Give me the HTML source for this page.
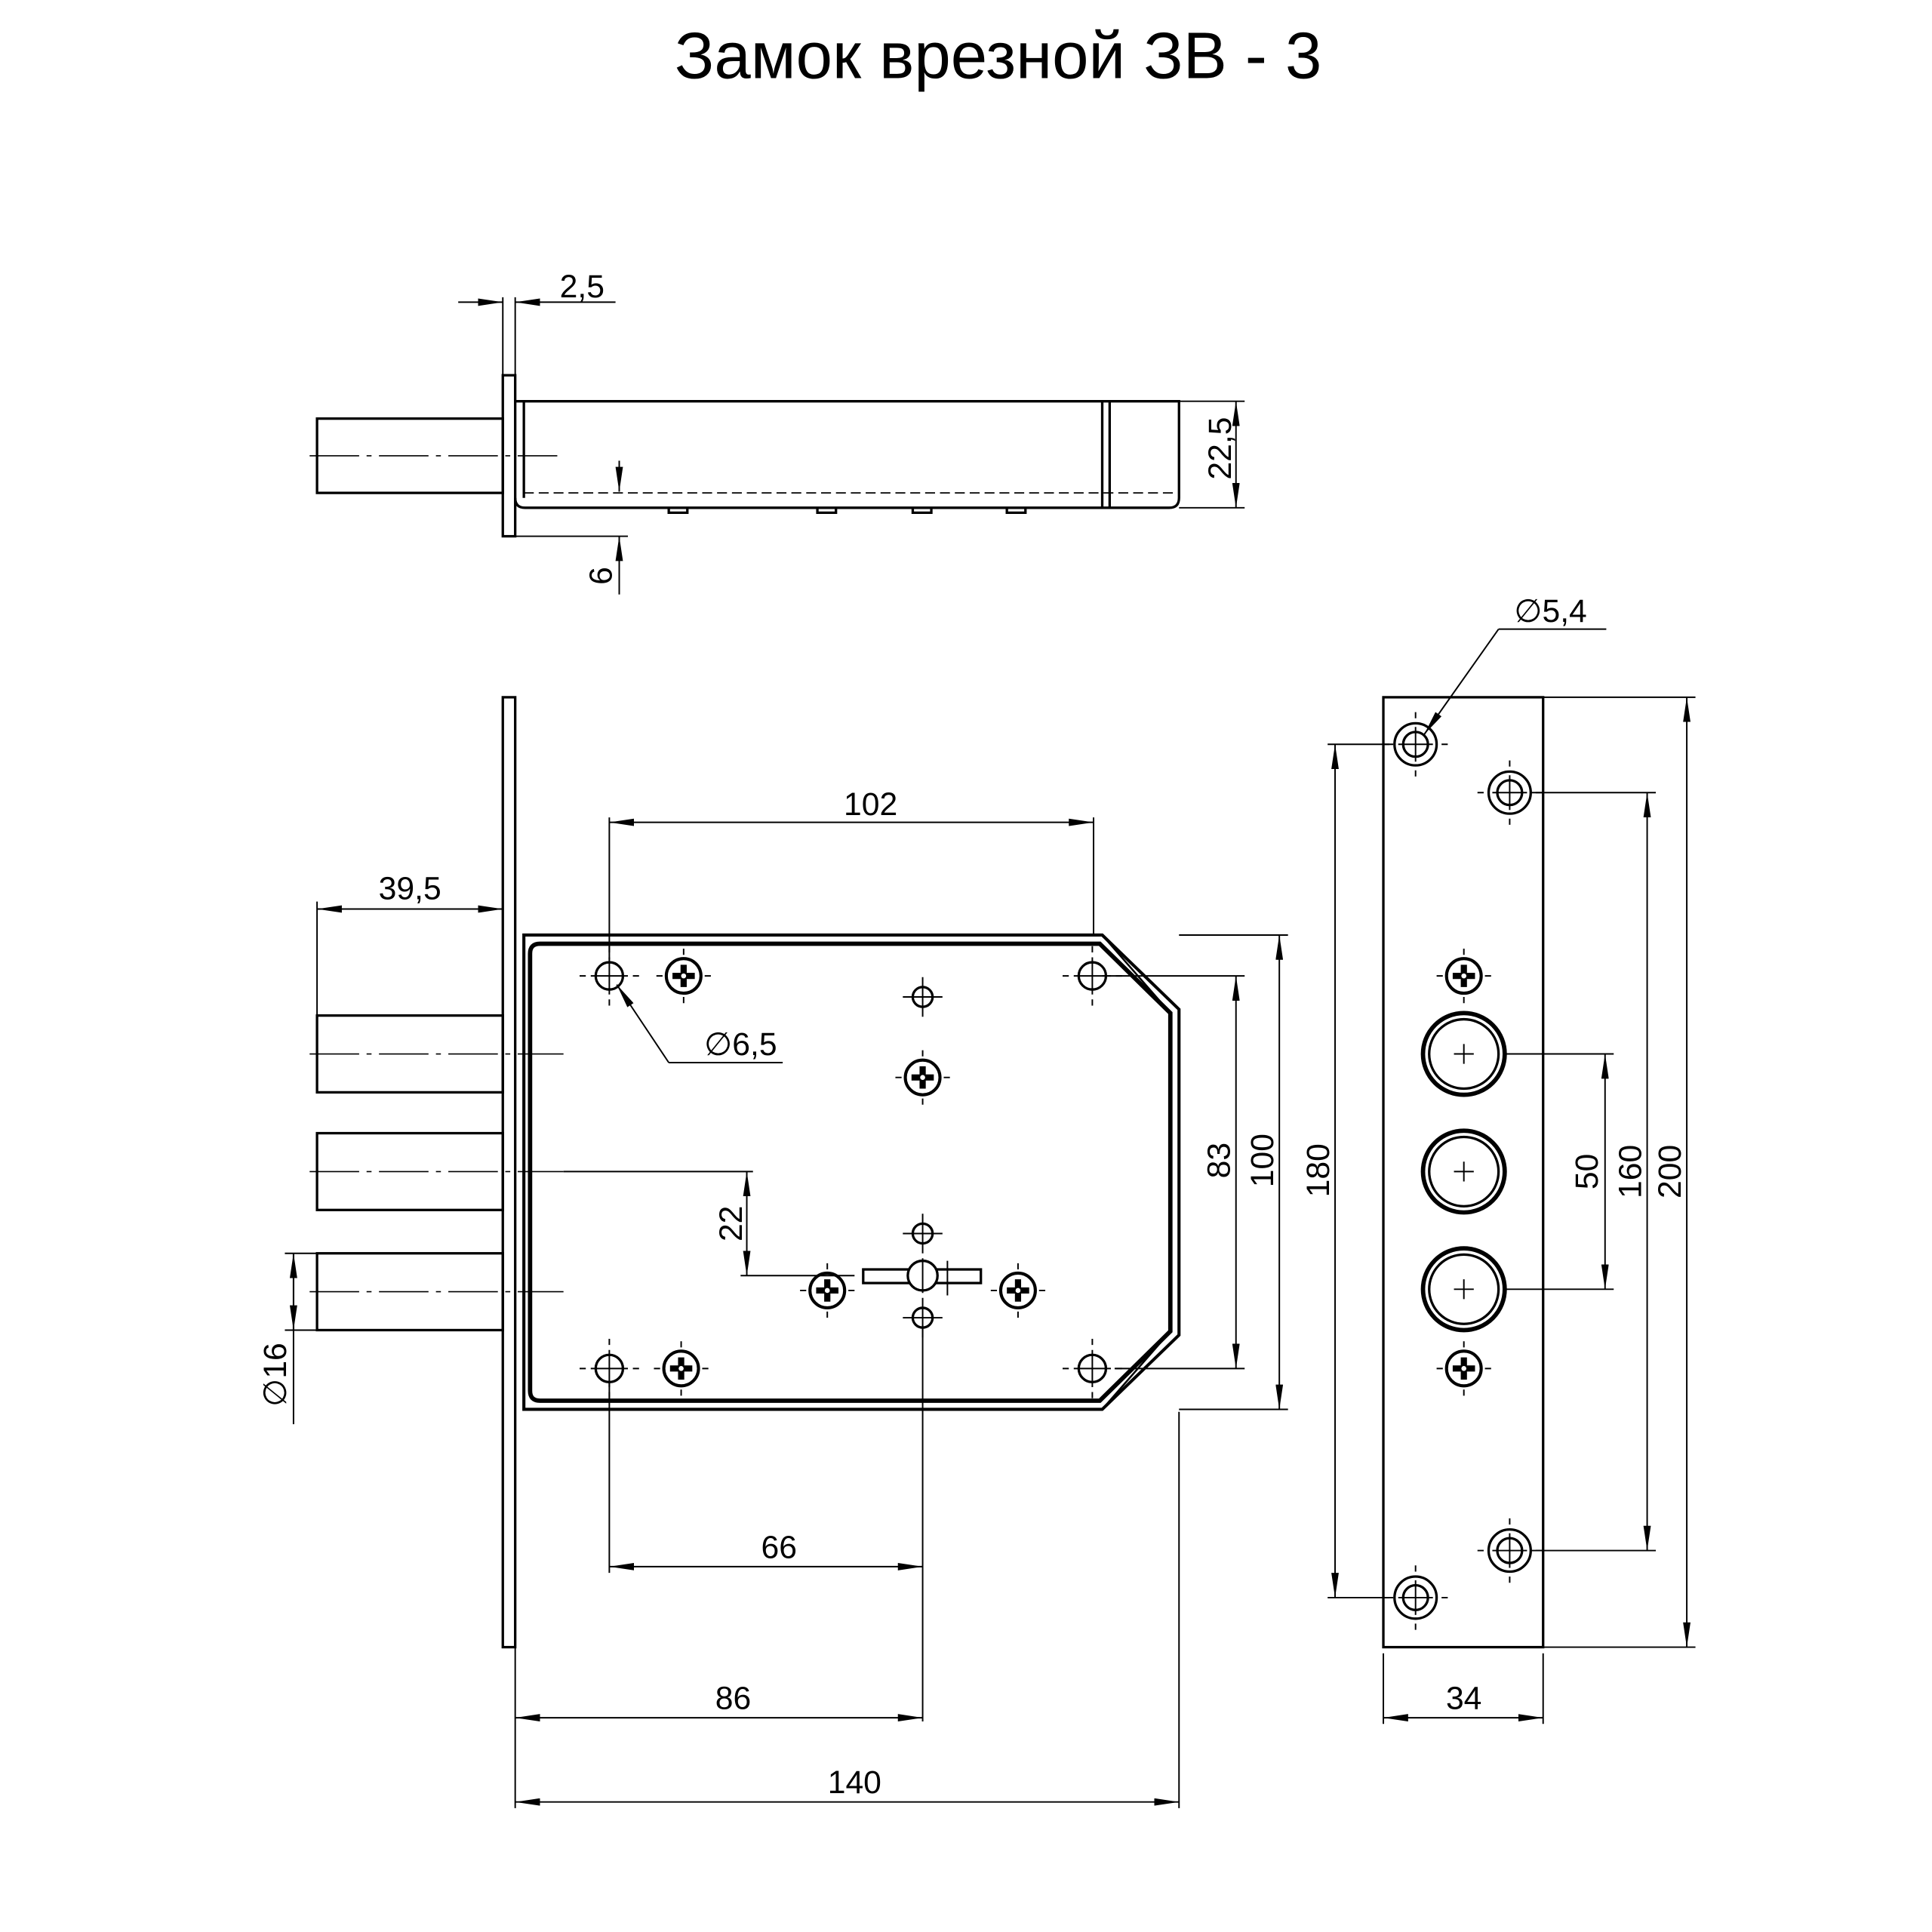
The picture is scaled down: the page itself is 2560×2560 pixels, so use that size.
<!DOCTYPE html>
<html><head><meta charset="utf-8"><style>html,body{margin:0;padding:0;background:#fff}svg{display:block}</style></head>
<body>
<svg width="2560" height="2560" viewBox="0 0 1560 1560" xmlns="http://www.w3.org/2000/svg" font-family="Liberation Sans, sans-serif">
<defs>
<marker id="a" viewBox="0 0 20 6" refX="20" refY="3" markerWidth="20" markerHeight="6" markerUnits="userSpaceOnUse" orient="auto-start-reverse"><path d="M0,0 L20,3 L0,6 z" fill="#000"/></marker>
<g id="scr"><circle r="14" fill="#fff" stroke="#000" stroke-width="2.5"/><path d="M-2.5,-9 h5 v6.5 h6.5 v5 h-6.5 v6.5 h-5 v-6.5 h-6.5 v-5 h6.5z" fill="#000"/><circle r="2" fill="#fff"/><path d="M0,-22 v5 M0,17 v5 M-22,0 h5 M17,0 h5" stroke="#000" stroke-width="1.2"/></g>
<g id="hl"><circle r="11" fill="#fff" stroke="#000" stroke-width="2"/><path d="M0,-15 v30 M-15,0 h30 M0,-24 v5 M0,19 v5 M-24,0 h5 M19,0 h5" stroke="#000" stroke-width="1.2"/></g>
<g id="sh"><circle r="8" fill="#fff" stroke="#000" stroke-width="2"/><path d="M0,-16 v32 M-16,0 h32" stroke="#000" stroke-width="1.2"/></g>
<g id="cs"><circle r="17" fill="#fff" stroke="#000" stroke-width="2"/><circle r="10" fill="none" stroke="#000" stroke-width="2"/><path d="M0,-14 v28 M-14,0 h28 M0,-26 v5 M0,21 v5 M-26,0 h5 M21,0 h5" stroke="#000" stroke-width="1.2"/></g>
<g id="bh"><circle r="33" fill="#fff" stroke="#000" stroke-width="3.5"/><circle r="28" fill="none" stroke="#000" stroke-width="2"/><path d="M0,-8 v16 M-8,0 h16" stroke="#000" stroke-width="1.2"/></g>
</defs>
<text x="806" y="63" font-size="53" text-anchor="middle">Замок врезной ЗВ - 3</text>

<g fill="none" stroke="#000" stroke-width="2">
<rect x="406" y="303" width="10" height="130"/>
<path d="M416,324 H952 V402 Q952,410 944,410 H424 Q416,410 416,402"/>
<path d="M423,324 V402 M890,324 V410 M896,324 V410"/>
<path d="M423,398 H948" stroke-width="1" stroke-dasharray="8,4"/>
<rect x="256" y="338" width="150" height="60"/>
<path d="M250,368 H450" stroke-width="1" stroke-dasharray="40,6,4,6"/>
<path d="M540,410v4h15v-4 M660,410v4h15v-4 M737,410v4h15v-4 M813,410v4h15v-4"/>
</g>
<g fill="none" stroke="#000" stroke-width="1.2">
<path d="M406,240 V303 M416,240 V303"/>
<path d="M370,244 H406" marker-end="url(#a)"/><path d="M497,244 H416" marker-end="url(#a)"/>
<path d="M952,324 H1005 M952,410 H1005"/>
<path d="M998,324 V410" marker-start="url(#a)" marker-end="url(#a)"/>
<path d="M416,433 H507"/>
<path d="M500,372 V397" marker-end="url(#a)"/><path d="M500,480 V433" marker-end="url(#a)"/>
</g>
<text x="470" y="240" font-size="26" text-anchor="middle">2,5</text>
<text transform="translate(994,362) rotate(-90)" font-size="26" text-anchor="middle">22,5</text>
<text transform="translate(494,465) rotate(-90)" font-size="26" text-anchor="middle">6</text>

<g fill="none" stroke="#000" stroke-width="2.5">
<rect x="406" y="563" width="10" height="767" stroke-width="2"/>
<path d="M423,755 H890 L952,815 V1078 L890,1138 H423 Z"/>
<path d="M436,762 H888 L945,818 V1075 L888,1131 H436 Q428,1131 428,1123 V770 Q428,762 436,762 Z" stroke-width="3.5"/>
<path d="M890,755 L945,818 M890,1138 L945,1075" stroke-width="1.5"/>
<rect x="256" y="820" width="150" height="62" stroke-width="2"/>
<rect x="256" y="915" width="150" height="62" stroke-width="2"/>
<rect x="256" y="1012" width="150" height="62" stroke-width="2"/>
</g>
<g fill="none" stroke="#000" stroke-width="1" stroke-dasharray="40,6,4,6">
<path d="M250,851 H455 M250,946 H455 M250,1043 H455"/>
</g>
<use href="#hl" x="492" y="788"/><use href="#hl" x="882" y="788"/><use href="#hl" x="492" y="1105"/><use href="#hl" x="882" y="1105"/>
<use href="#scr" x="552" y="788"/><use href="#scr" x="550" y="1105"/><use href="#scr" x="745" y="870"/><use href="#scr" x="668" y="1042"/><use href="#scr" x="822" y="1042"/>
<use href="#sh" x="745" y="805"/><use href="#sh" x="745" y="996"/><use href="#sh" x="745" y="1064"/>
<rect x="697" y="1025" width="95" height="11" fill="#fff" stroke="#000" stroke-width="2"/>
<circle cx="745" cy="1030" r="12" fill="#fff" stroke="#000" stroke-width="2"/>
<path d="M745,1016 V1044 M765,1018 V1046" stroke="#000" stroke-width="1.2"/>

<g fill="none" stroke="#000" stroke-width="1.2">
<path d="M492,660 V775 M883,660 V755"/>
<path d="M492,664 H883" marker-start="url(#a)" marker-end="url(#a)"/>
<path d="M256,728 V820"/>
<path d="M256,734 H406" marker-start="url(#a)" marker-end="url(#a)"/>
<path d="M540,858 H632"/><path d="M540,858 L498,795" marker-end="url(#a)"/>
<path d="M455,946 H608 M598,1030 H690"/>
<path d="M603,946 V1030" marker-start="url(#a)" marker-end="url(#a)"/>
<path d="M230,1012 H256 M230,1074 H256"/>
<path d="M237,1012 V1150" /><path d="M237,1045 V1012" marker-end="url(#a)"/><path d="M237,1045 V1074" marker-end="url(#a)"/>
<path d="M890,788 H1005 M900,1105 H1005 M952,755 H1040 M952,1138 H1040"/>
<path d="M998,788 V1105" marker-start="url(#a)" marker-end="url(#a)"/>
<path d="M1033,755 V1138" marker-start="url(#a)" marker-end="url(#a)"/>
<path d="M492,1115 V1270 M745,1070 V1390 M416,1330 V1460 M952,1140 V1460"/>
<path d="M492,1265 H745" marker-start="url(#a)" marker-end="url(#a)"/>
<path d="M416,1387 H745" marker-start="url(#a)" marker-end="url(#a)"/>
<path d="M416,1455 H952" marker-start="url(#a)" marker-end="url(#a)"/>
</g>
<g font-size="26" text-anchor="middle">
<text x="703" y="658">102</text>
<text x="331" y="726">39,5</text>
<text x="598" y="852">∅6,5</text>
<text transform="translate(599,988) rotate(-90)">22</text>
<text transform="translate(231,1110) rotate(-90)">∅16</text>
<text transform="translate(993,937) rotate(-90)">83</text>
<text transform="translate(1028,937) rotate(-90)">100</text>
<text x="629" y="1258">66</text>
<text x="592" y="1380">86</text>
<text x="690" y="1448">140</text>
</g>

<rect x="1117" y="563" width="129" height="767" fill="none" stroke="#000" stroke-width="2"/>
<use href="#cs" x="1143" y="601"/><use href="#cs" x="1219" y="640"/><use href="#cs" x="1219" y="1252"/><use href="#cs" x="1143" y="1290"/>
<use href="#scr" x="1182" y="788"/><use href="#scr" x="1182" y="1105"/>
<use href="#bh" x="1182" y="851"/><use href="#bh" x="1182" y="946"/><use href="#bh" x="1182" y="1041"/>
<g fill="none" stroke="#000" stroke-width="1.2">
<path d="M1072,601 H1125 M1072,1290 H1125 M1215,851 H1303 M1215,1041 H1303 M1236,640 H1337 M1236,1252 H1337 M1246,563 H1369 M1246,1330 H1369"/>
<path d="M1078,601 V1290" marker-start="url(#a)" marker-end="url(#a)"/>
<path d="M1296,851 V1041" marker-start="url(#a)" marker-end="url(#a)"/>
<path d="M1330,640 V1252" marker-start="url(#a)" marker-end="url(#a)"/>
<path d="M1362,563 V1330" marker-start="url(#a)" marker-end="url(#a)"/>
<path d="M1117,1335 V1392 M1246,1335 V1392"/>
<path d="M1117,1387 H1246" marker-start="url(#a)" marker-end="url(#a)"/>
<path d="M1210,508 H1297"/><path d="M1210,508 L1150,593" marker-end="url(#a)"/>
</g>
<g font-size="26" text-anchor="middle">
<text x="1252" y="502">∅5,4</text>
<text transform="translate(1073,945) rotate(-90)">180</text>
<text transform="translate(1290,946) rotate(-90)">50</text>
<text transform="translate(1325,946) rotate(-90)">160</text>
<text transform="translate(1357,946) rotate(-90)">200</text>
<text x="1182" y="1380">34</text>
</g>
</svg>
</body></html>
